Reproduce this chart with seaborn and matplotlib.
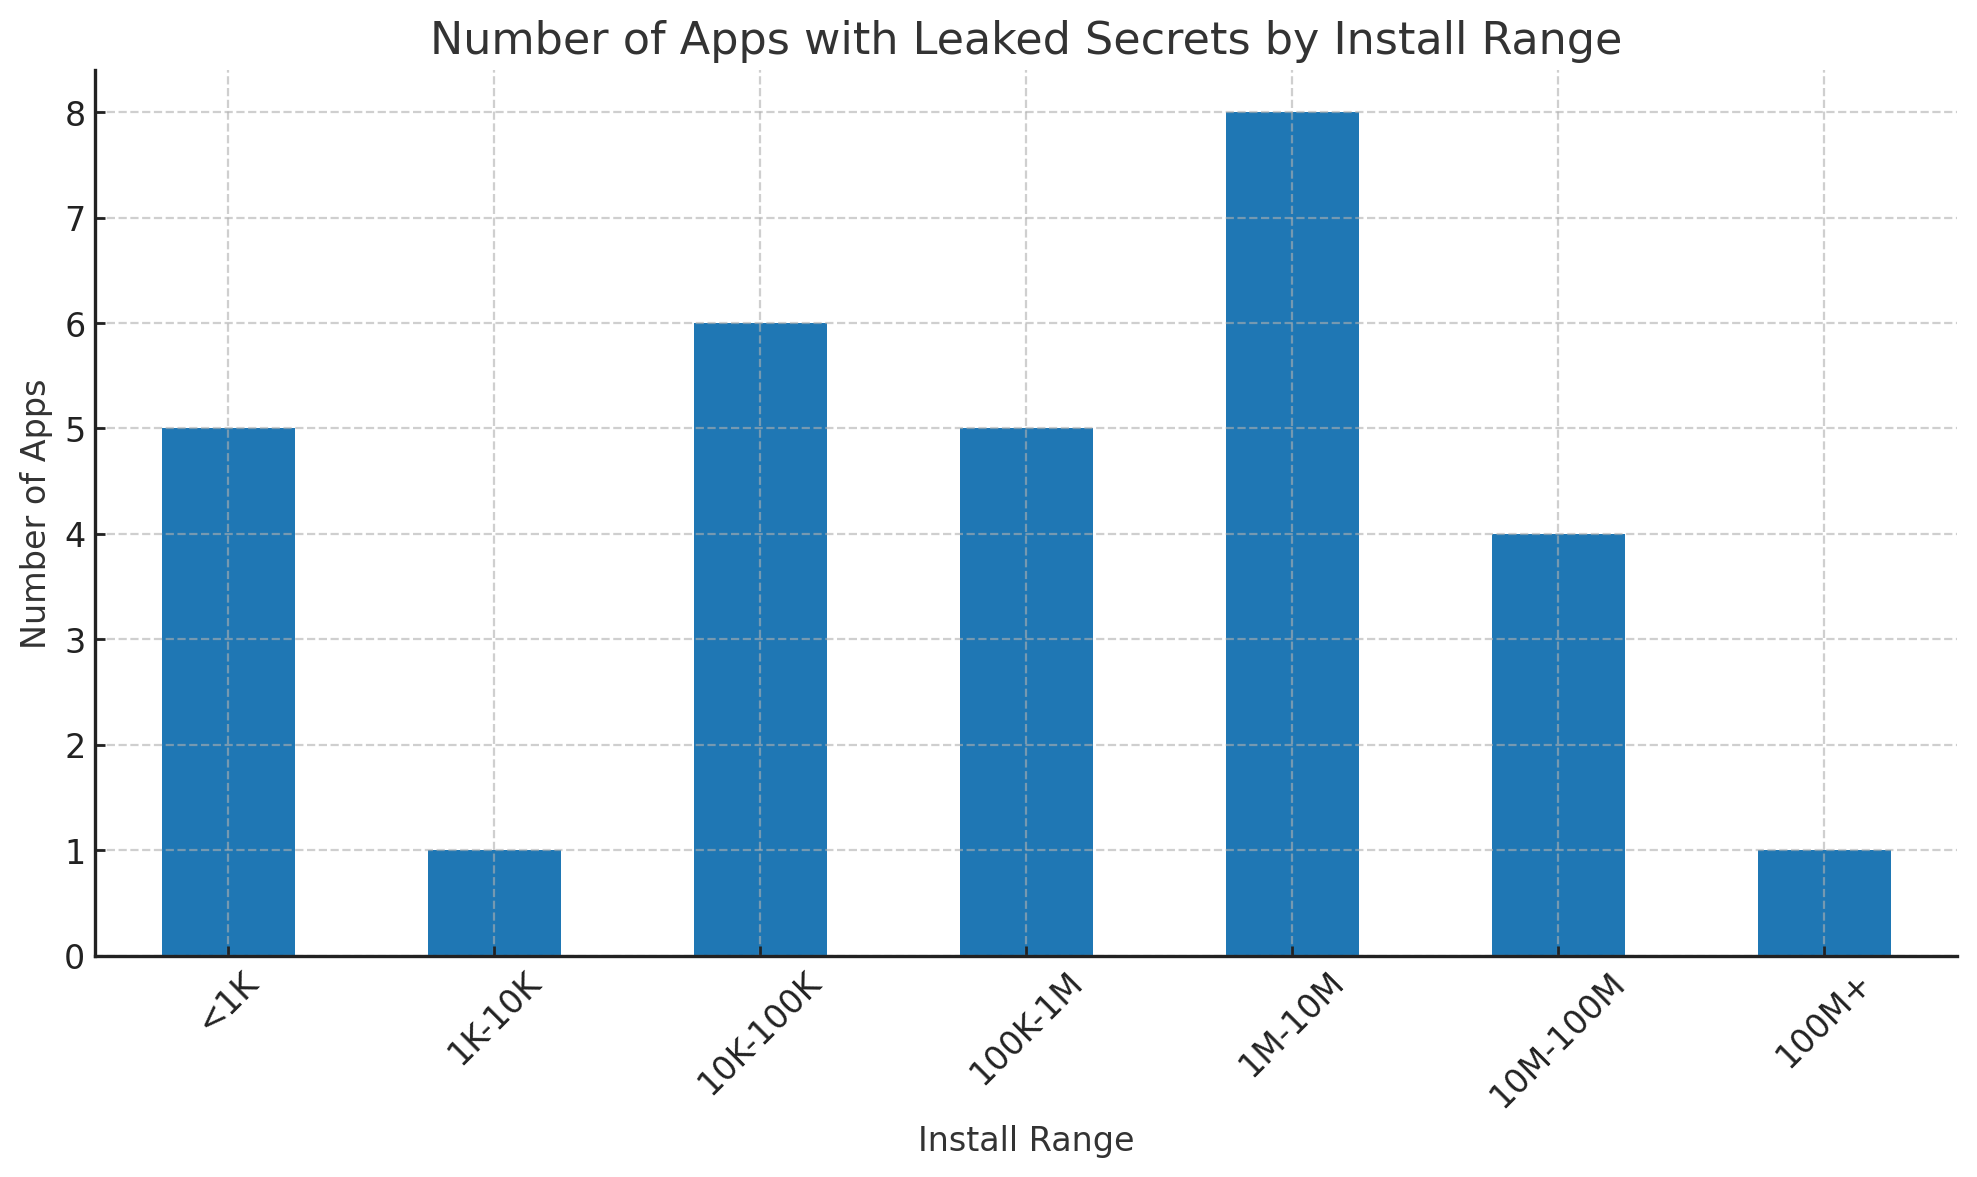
import pandas as pd
import matplotlib.pyplot as plt
import seaborn as sns

# Data
install_ranges = ["<1K", "1K-10K", "10K-100K", "100K-1M", "1M-10M", "10M-100M", "100M+"]
app_counts = [5, 1, 6, 5, 8, 4, 1]

df = pd.DataFrame({"Install Range": install_ranges, "Number of Apps": app_counts})

sns.set_style("ticks")
plt.rcParams["font.family"] = ["DejaVu Sans"]
plt.rcParams["text.color"] = "#333333"
plt.rcParams["axes.labelcolor"] = "#333333"

fig, ax = plt.subplots(figsize=(10, 6))
sns.barplot(data=df, x="Install Range", y="Number of Apps", color="#1f77b4",
            saturation=1, width=0.5, linewidth=0, ax=ax)

# Grid drawn on top of the bars, dashed
ax.set_axisbelow(False)
ax.grid(True, linestyle="--", color="#b0b0b0", alpha=0.6, linewidth=0.8)

ax.spines["top"].set_visible(False)
ax.spines["right"].set_visible(False)
for side in ["left", "bottom"]:
    ax.spines[side].set_color("#222222")
    ax.spines[side].set_linewidth(1.2)
    ax.spines[side].set_zorder(3)

ax.set_title("Number of Apps with Leaked Secrets by Install Range", fontsize=16)
ax.set_xlabel("Install Range", fontsize=12)
ax.set_ylabel("Number of Apps", fontsize=12)
ax.tick_params(labelsize=12, colors="#222222", direction="in", length=3.5, width=1)
plt.xticks(rotation=45)
ax.set_xlim(-0.5, 6.5)

plt.tight_layout()
plt.savefig("out.png", dpi=200, bbox_inches="tight")
